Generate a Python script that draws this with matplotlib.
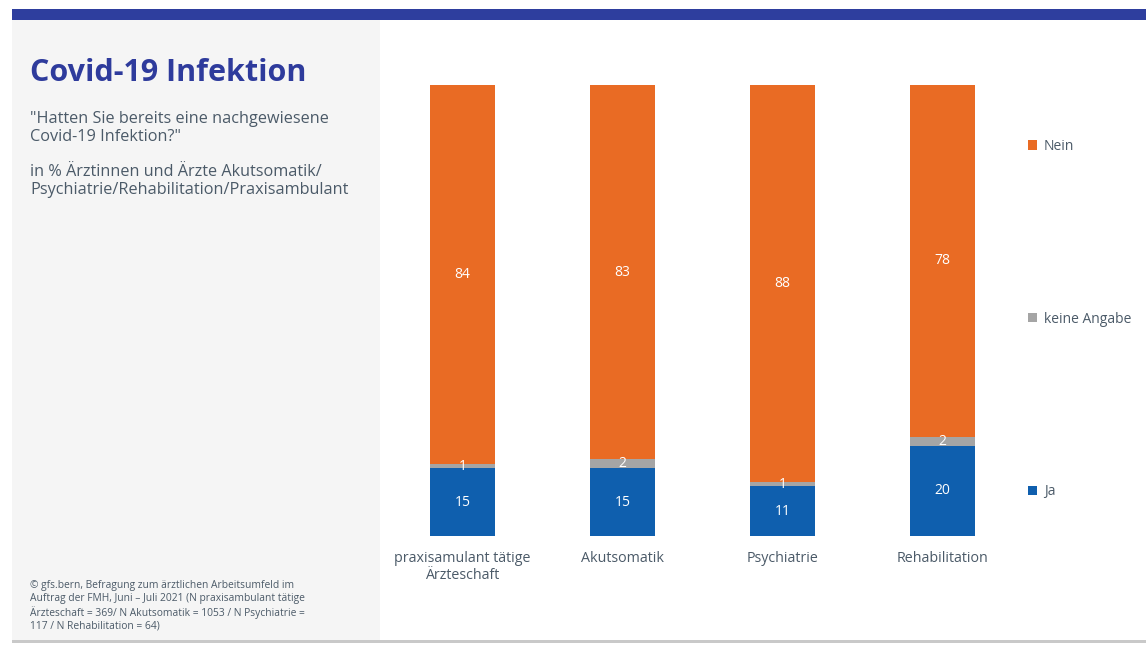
import numpy as np
import matplotlib.pyplot as plt
from matplotlib.patches import Rectangle

plt.rcParams['font.family'] = ['Open Sans', 'DejaVu Sans']

# Survey results in percent
categories = ['praxisamulant tätige\nÄrzteschaft', 'Akutsomatik', 'Psychiatrie', 'Rehabilitation']
ja = [15, 15, 11, 20]
keine_angabe = [1, 2, 1, 2]
nein = [84, 83, 88, 78]

series = [('Ja', ja, '#0F5FAE'),
          ('keine Angabe', keine_angabe, '#A5A5A5'),
          ('Nein', nein, '#E96B24')]

W, H = 1146, 645
fig = plt.figure(figsize=(W / 100, H / 100), dpi=100)
fig.patch.set_facecolor('white')


def px(x, y):
    # pixel coords (top-left origin) -> figure fraction
    return x / W, 1 - y / H


# page decoration: header band, left panel, bottom rule
fig.add_artist(Rectangle(px(12, 20), (W - 12) / W, 11 / H, transform=fig.transFigure,
                         color='#2E3E9E', lw=0, zorder=0))
fig.add_artist(Rectangle(px(12, 640), 368 / W, 620 / H, transform=fig.transFigure,
                         color='#F5F5F5', lw=0, zorder=0))
fig.add_artist(Rectangle(px(12, 643), (W - 12) / W, 3 / H, transform=fig.transFigure,
                         color='#C9C9C9', lw=0, zorder=0))

# title block
text_col = '#4B5A68'
fig.text(*px(30, 73), 'Covid-19 Infektion', fontsize=22, fontweight='bold',
         color='#2E3B9C', va='center', ha='left')
fig.text(*px(30, 128), '"Hatten Sie bereits eine nachgewiesene\nCovid-19 Infektion?"',
         fontsize=11.7, color=text_col, va='center', ha='left', linespacing=1.22)
fig.text(*px(30, 181), 'in % Ärztinnen und Ärzte Akutsomatik/\nPsychiatrie/Rehabilitation/Praxisambulant',
         fontsize=11.7, color=text_col, va='center', ha='left', linespacing=1.22)
fig.text(*px(30, 606), '© gfs.bern, Befragung zum ärztlichen Arbeitsumfeld im\n'
         'Auftrag der FMH, Juni – Juli 2021 (N praxisambulant tätige\n'
         'Ärzteschaft = 369/ N Akutsomatik = 1053 / N Psychiatrie =\n'
         '117 / N Rehabilitation = 64)',
         fontsize=7.4, color=text_col, va='center', ha='left', linespacing=1.2)

# stacked bars
left, right, top, bottom = 382, 1000, 85, 536
ax = fig.add_axes([left / W, 1 - bottom / H, (right - left) / W, (bottom - top) / H])
x = np.arange(len(categories))
step = 160
ax.set_xlim(-(462.5 - left) / step, (right - 462.5) / step)
ax.set_ylim(0, 100)

base = np.zeros(len(categories))
handles = []
for name, vals, col in series:
    vals = np.array(vals, dtype=float)
    bars = ax.bar(x, vals, width=65 / step, bottom=base, color=col, label=name,
                  edgecolor='none')
    handles.append(bars)
    for xi, b, v in zip(x, base, vals):
        ax.text(xi, b + v / 2, f'{v:.0f}', ha='center', va='center',
                color='white', fontsize=10)
    base += vals

for s in ax.spines.values():
    s.set_visible(False)
ax.set_yticks([])
ax.set_xticks(x)
ax.set_xticklabels(categories, fontsize=10.3, color=text_col, linespacing=1.15, va='top')
ax.tick_params(axis='x', length=0, pad=11)
ax.patch.set_alpha(0)

# legend: Nein on top, Ja at the bottom
leg = fig.legend(handles[::-1], [s[0] for s in series][::-1],
                 loc='upper left', bbox_to_anchor=px(1028, 139),
                 frameon=False, fontsize=10, labelcolor=text_col,
                 handlelength=0.65, handleheight=0.65, handletextpad=0.5,
                 labelspacing=11.35, borderpad=0, borderaxespad=0)

fig.savefig('out.png', dpi=100)
